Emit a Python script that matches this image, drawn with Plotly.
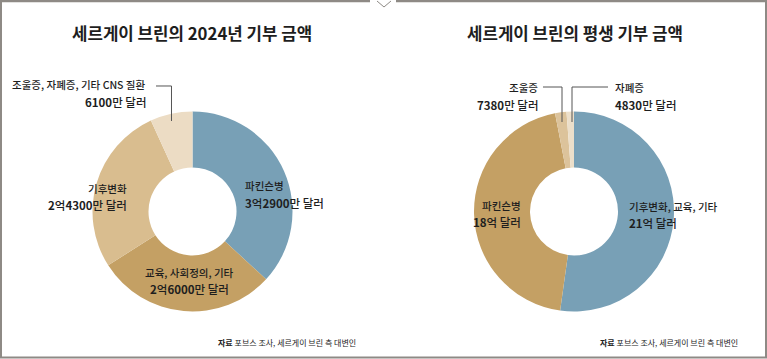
import plotly.graph_objects as go

W, H = 767, 359

# ---- data ----
titles = ["세르게이 브린의 2024년 기부 금액", "세르게이 브린의 평생 기부 금액"]

left_categories = ["파킨슨병", "교육, 사회정의, 기타", "기후변화", "조울증, 자폐증, 기타 CNS 질환"]
left_values = [32900, 26000, 24300, 6100]          # 만 달러
left_amounts = ["<b>3</b>억<b>2900</b>만 달러", "<b>2</b>억<b>6000</b>만 달러",
                "<b>2</b>억<b>4300</b>만 달러", "<b>6100</b>만 달러"]

right_categories = ["기후변화, 교육, 기타", "파킨슨병", "조울증", "자폐증"]
right_values = [210000, 180000, 7380, 4830]        # 만 달러
right_amounts = ["<b>21</b>억 달러", "<b>18</b>억 달러", "<b>7380</b>만 달러", "<b>4830</b>만 달러"]

source_text = "<b>자료</b> 포브스 조사, 세르게이 브린 측 대변인"

# ---- styles ----
left_colors = ["#78a0b6", "#c4a064", "#d9bd8f", "#ecdcc4"]
right_colors = ["#78a0b6", "#c4a064", "#dcc39b", "#ecdfca"]
FONT = "Noto Sans CJK KR"
TXT = "#1e1e1e"


def px(x):
    return x / W


def py(y):
    return 1 - y / H


def donut_domain(cx, cy, r):
    return dict(x=[px(cx - r), px(cx + r)], y=[py(cy + r), py(cy - r)])


fig = go.Figure()
fig.add_trace(go.Pie(
    labels=left_categories, values=left_values, sort=False, direction="clockwise",
    rotation=0, hole=0.44, textinfo="none", hoverinfo="label+value",
    marker=dict(colors=left_colors, line=dict(width=0)),
    domain=donut_domain(192.5, 211.5, 100), showlegend=False))
fig.add_trace(go.Pie(
    labels=right_categories, values=right_values, sort=False, direction="clockwise",
    rotation=0, hole=0.44, textinfo="none", hoverinfo="label+value",
    marker=dict(colors=right_colors, line=dict(width=0)),
    domain=donut_domain(574, 211.5, 100), showlegend=False))

ann = []


def txt(text, x, y, anchor, size=10.5, color=TXT, weight=500):
    ann.append(dict(text=text, x=px(x), y=py(y), xref="paper", yref="paper",
                    xanchor=anchor, yanchor="middle", showarrow=False,
                    font=dict(family=FONT, size=size, color=color, weight=weight)))


# titles
txt("<b>%s</b>" % titles[0], 192, 33, "center", size=16.8)
txt("<b>%s</b>" % titles[1], 575, 33, "center", size=16.8)

# left labels: (category index, x, y_name, y_amount, anchor)
left_pos = [(0, 243, 186, 203, "left"), (1, 189, 272, 289, "center"),
            (2, 129, 188, 205, "right"), (3, 148, 85, 102, "right")]
for i, x, y1, y2, a in left_pos:
    txt(left_categories[i], x, y1, a)
    txt(left_amounts[i], x, y2, a, size=11.5)

right_pos = [(0, 627, 206, 223, "left"), (1, 523, 205, 222, "right"),
             (2, 540, 88, 105, "right"), (3, 613, 88, 105, "left")]
for i, x, y1, y2, a in right_pos:
    txt(right_categories[i], x, y1, a)
    txt(right_amounts[i], x, y2, a, size=11.5)

# sources
txt(source_text, 358, 342, "right", size=8, color="#222222", weight=400)
txt(source_text, 740, 342, "right", size=8, color="#222222", weight=400)

shapes = []


def path(pts, color="#555555", width=1):
    d = "M " + " L ".join("%f,%f" % (px(x), py(y)) for x, y in pts)
    shapes.append(dict(type="path", path=d, xref="paper", yref="paper",
                       line=dict(color=color, width=width)))


# leader lines
path([(156, 86), (171.5, 86), (171.5, 121)])
path([(543, 87), (562, 87), (562, 122)])
path([(608, 87), (572, 87), (572, 122)])

# frame
FR = "#8e8a85"
path([(370, 1.2), (0, 1.2)], FR, 2.2)
path([(1, 0), (1, 358)], FR, 2)
path([(0, 357.5), (767, 357.5)], FR, 2)
path([(766, 358), (766, 0)], FR, 2)
path([(396, 1.2), (767, 1.2)], FR, 2.2)
path([(377, 1), (384, 7), (391, 1)], FR, 1)

fig.update_layout(
    width=W, height=H, margin=dict(l=0, r=0, t=0, b=0),
    paper_bgcolor="white", plot_bgcolor="white",
    annotations=ann, shapes=shapes,
    font=dict(family=FONT),
)

fig.write_html("out.html", config={"displayModeBar": False},
               post_script="document.body.style.margin='0';document.body.style.overflow='hidden';")
